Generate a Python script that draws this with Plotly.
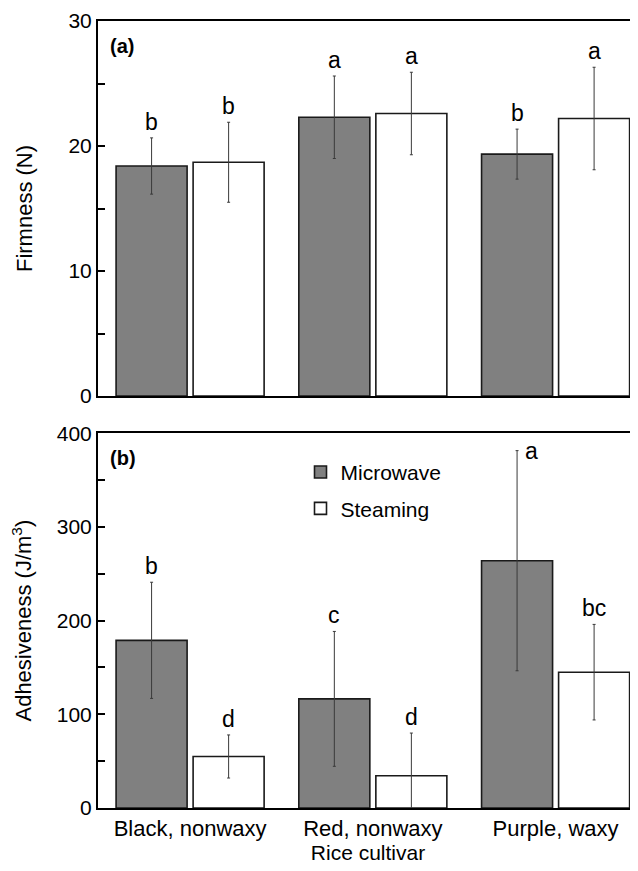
import plotly.graph_objects as go

cultivars = ["Black, nonwaxy", "Red, nonwaxy", "Purple, waxy"]
methods = ["Microwave", "Steaming"]

firm_mw = [18.4, 22.3, 19.35]
firm_mw_sd = [2.25, 3.3, 2.0]
firm_st = [18.7, 22.6, 22.2]
firm_st_sd = [3.2, 3.3, 4.1]
firm_mw_letters = ["b", "a", "b"]
firm_st_letters = ["b", "a", "a"]

adh_mw = [179, 116.5, 264]
adh_mw_sd = [62, 72, 117.5]
adh_st = [55, 34.5, 145]
adh_st_sd = [23, 45.5, 51]
adh_mw_letters = ["b", "c", "a"]
adh_st_letters = ["d", "d", "bc"]

FONT = "Arial, Liberation Sans, Helvetica, sans-serif"
GRAY = "#808080"
BARGAP = 0.157
BARGROUPGAP = 0.078
SLOT = (1 - BARGAP) / 2

fig = go.Figure()

def add_bars(vals, sds, name, color, xa, ya, show):
    fig.add_trace(go.Bar(
        x=cultivars, y=vals, name=name, xaxis=xa, yaxis=ya,
        showlegend=show, legendgroup=name,
        marker=dict(color=color, line=dict(color="#1a1a1a", width=1.6)),
        error_y=dict(type="data", array=sds, visible=True,
                     color="#3a3a3a", thickness=1, width=1.5),
    ))

add_bars(firm_mw, firm_mw_sd, methods[0], GRAY, "x", "y", False)
add_bars(firm_st, firm_st_sd, methods[1], "white", "x", "y", False)
add_bars(adh_mw, adh_mw_sd, methods[0], GRAY, "x2", "y2", True)
add_bars(adh_st, adh_st_sd, methods[1], "white", "x2", "y2", True)

annotations = []
def add_letters(vals, sds, letters, side, xref, yref, ymax):
    for i, (v, s, t) in enumerate(zip(vals, sds, letters)):
        top = v + s
        ann = dict(x=i + side * SLOT / 2, y=top, xref=xref, yref=yref,
                   text=t, showarrow=False, yanchor="bottom", yshift=1,
                   font=dict(family=FONT, size=23, color="black"))
        if top > ymax * 0.93:
            ann.update(yanchor="middle", yshift=0, xshift=14)
        annotations.append(ann)

add_letters(firm_mw, firm_mw_sd, firm_mw_letters, -1, "x", "y", 30)
add_letters(firm_st, firm_st_sd, firm_st_letters, 1, "x", "y", 30)
add_letters(adh_mw, adh_mw_sd, adh_mw_letters, -1, "x2", "y2", 400)
add_letters(adh_st, adh_st_sd, adh_st_letters, 1, "x2", "y2", 400)

annotations.append(dict(x=0.018, y=0.985, xref="paper", yref="paper", text="<b>(a)</b>",
                        showarrow=False, xanchor="left", yanchor="top",
                        font=dict(family=FONT, size=20, color="black")))
annotations.append(dict(x=0.018, y=0.461, xref="paper", yref="paper", text="<b>(b)</b>",
                        showarrow=False, xanchor="left", yanchor="top",
                        font=dict(family=FONT, size=20, color="black")))

xr = [-0.504, 2.451]
xcommon = dict(range=xr, showline=True, linecolor="black", linewidth=2, mirror=True,
               ticks="", showgrid=False, zeroline=False, fixedrange=True,
               tickfont=dict(family=FONT, size=22, color="black"))
ycommon = dict(showline=True, linecolor="black", linewidth=2, mirror=False,
               ticks="inside", ticklen=7, tickwidth=1.5, tickcolor="black",
               showgrid=False, zeroline=False,
               tickfont=dict(family=FONT, size=21, color="black"),
               title_font=dict(family=FONT, size=22, color="black"),
               title_standoff=30)

fig.update_layout(
    width=630, height=863,
    margin=dict(l=90, r=0, t=13, b=63),
    paper_bgcolor="white", plot_bgcolor="white",
    barmode="group", bargap=BARGAP, bargroupgap=BARGROUPGAP,
    font=dict(family=FONT, size=21, color="black"),
    xaxis=dict(xcommon, anchor="y", showticklabels=False, domain=[0, 1]),
    xaxis2=dict(xcommon, anchor="y2", domain=[0, 1],
                title=dict(text="Rice cultivar", standoff=5,
                           font=dict(family=FONT, size=21, color="black"))),
    yaxis=dict(ycommon, anchor="x", domain=[0.5235, 1], range=[0, 30],
               tickvals=[0, 10, 20, 30], minor=dict(dtick=5, ticks="inside", ticklen=7, tickcolor="black"),
               title=dict(text="Firmness (N)")),
    yaxis2=dict(ycommon, anchor="x2", domain=[0, 0.4761], range=[0, 400],
                tickvals=[0, 100, 200, 300, 400], minor=dict(dtick=50, ticks="inside", ticklen=7, tickcolor="black"),
                title=dict(text="Adhesiveness (J/m<sup>3</sup>)")),
    legend=dict(x=0.375, y=0.4525, xanchor="left", yanchor="top",
                bgcolor="rgba(0,0,0,0)", borderwidth=0,
                font=dict(family=FONT, size=21, color="black"),
                itemwidth=30, traceorder="grouped", tracegroupgap=6),
    annotations=annotations,
)

fig.write_html("out.html")
